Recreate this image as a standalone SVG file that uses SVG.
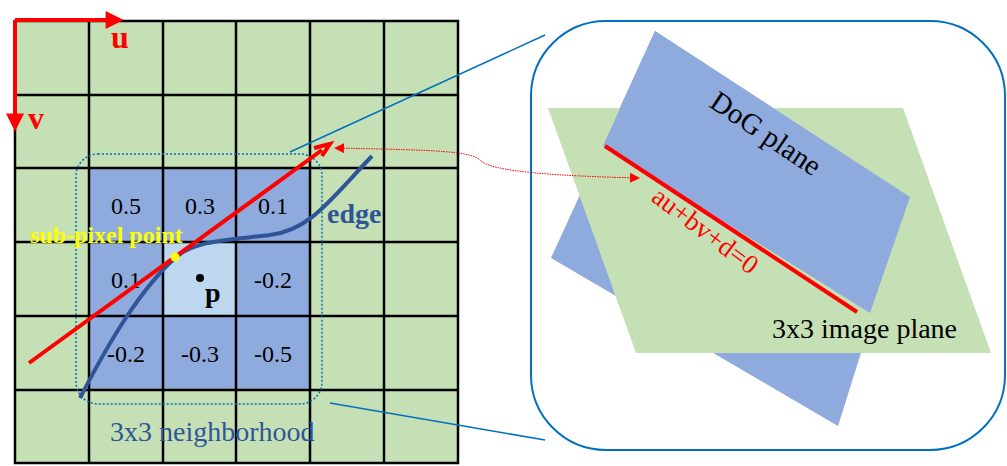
<svg xmlns="http://www.w3.org/2000/svg" width="1007" height="466" viewBox="0 0 1007 466">
<defs>
<style>
.g{fill:#c5e0b4}.b{fill:#8faadc}
.grid{stroke:#000;stroke-width:2.5;fill:none}
.num{font-family:"Liberation Serif",serif;font-size:24px;text-anchor:middle;fill:#000}
.ser{font-family:"Liberation Serif",serif}
</style>
<marker id="ra" viewBox="0 0 10 10" refX="8" refY="5" markerWidth="5" markerHeight="4.5" orient="auto"><path d="M0,0L10,5L0,10z" fill="#f00"/></marker>
<marker id="rd" viewBox="0 0 10 10" refX="8" refY="5" markerWidth="10" markerHeight="10" orient="auto-start-reverse"><path d="M0,0L10,5L0,10z" fill="#f00"/></marker>
</defs>
<rect width="1007" height="466" fill="#fff"/>
<g id="grid">
<rect x="15" y="21" width="443" height="442" class="g"/>
<rect x="89" y="168" width="221" height="222" class="b"/>
<rect x="163" y="242" width="73" height="74" fill="#bdd7ee"/>
<path class="grid" d="M15,21H458V463H15Z M89,21V463 M163,21V463 M236,21V463 M310,21V463 M384,21V463 M15,95H458 M15,168H458 M15,242H458 M15,316H458 M15,390H458"/>
<text class="num" x="126" y="214">0.5</text><text class="num" x="200" y="214">0.3</text><text class="num" x="273" y="214">0.1</text>
<text class="num" x="126" y="288">0.1</text><text class="num" x="273" y="288">-0.2</text>
<text class="num" x="126" y="362">-0.2</text><text class="num" x="200" y="362">-0.3</text><text class="num" x="273" y="362">-0.5</text>
</g>
<g id="neighborhood">
<rect x="76" y="154" width="246" height="250" rx="22" fill="none" stroke="#0070c0" stroke-width="1.5" stroke-dasharray="2,2"/>
<text class="ser" x="110" y="441" font-size="28" fill="#2f5597">3x3 neighborhood</text>
</g>
<g id="edge">
<path d="M80,398 C110,340 140,290 175,258 C195,240 230,240 270,235 C310,230 330,200 372,156" fill="none" stroke="#2f5597" stroke-width="4"/>
<text class="ser" x="327" y="223" font-size="28" font-weight="bold" fill="#2f5597">edge</text>
</g>
<g id="axes">
<path d="M15,20H120" stroke="#f00" stroke-width="4" marker-end="url(#ra)"/>
<path d="M15,20V128" stroke="#f00" stroke-width="4" marker-end="url(#ra)"/>
<text class="ser" x="111" y="48" font-size="32" font-weight="bold" fill="#f00">u</text>
<text class="ser" x="28" y="129" font-size="32" font-weight="bold" fill="#f00">v</text>
</g>
<g id="line">
<path d="M29,363 L322,150" stroke="#f00" stroke-width="4"/>
<path d="M314,148 L330,144 L322,156" fill="none" stroke="#f00" stroke-width="4"/>
</g>
<g id="point">
<circle cx="175" cy="257" r="4.5" fill="#ff0"/>
<text class="ser" x="30" y="243" font-size="24" font-weight="bold" fill="#ff0">sub-pixel point</text>
<circle cx="200" cy="278" r="4" fill="#000"/>
<text class="ser" x="205" y="302" font-size="28" font-weight="bold">p</text>
</g>
<g id="zoom">
<rect x="531" y="21" width="474" height="429" rx="75" fill="#fff" stroke="#0070c0" stroke-width="2"/>
<polygon class="b" points="655,31 910,197 838,426 551,258"/>
<polygon class="g" points="548,108 903,108 991,353 636,353"/>
<polygon class="b" points="603,146 655,31 910,197 870,313"/>
<path d="M605,146 L857,312" stroke="#f00" stroke-width="4"/>
<text class="ser" font-size="29" transform="translate(708,106) rotate(34)">DoG plane</text>
<text class="ser" font-size="27" fill="#f00" transform="translate(650,200) rotate(37)">au+bv+d=0</text>
<text class="ser" x="772" y="338" font-size="28">3x3 image plane</text>
</g>
<g id="connectors" fill="none">
<path d="M290,152 L545,35" stroke="#0070c0" stroke-width="1.5"/>
<path d="M330,403 L545,440" stroke="#0070c0" stroke-width="1.5"/>
<path d="M336,148 C420,150 470,150 480,160 C490,172 560,176 638,178" stroke="#f00" stroke-width="1" stroke-dasharray="1.5,1" marker-start="url(#rd)" marker-end="url(#rd)"/>
</g>
</svg>
